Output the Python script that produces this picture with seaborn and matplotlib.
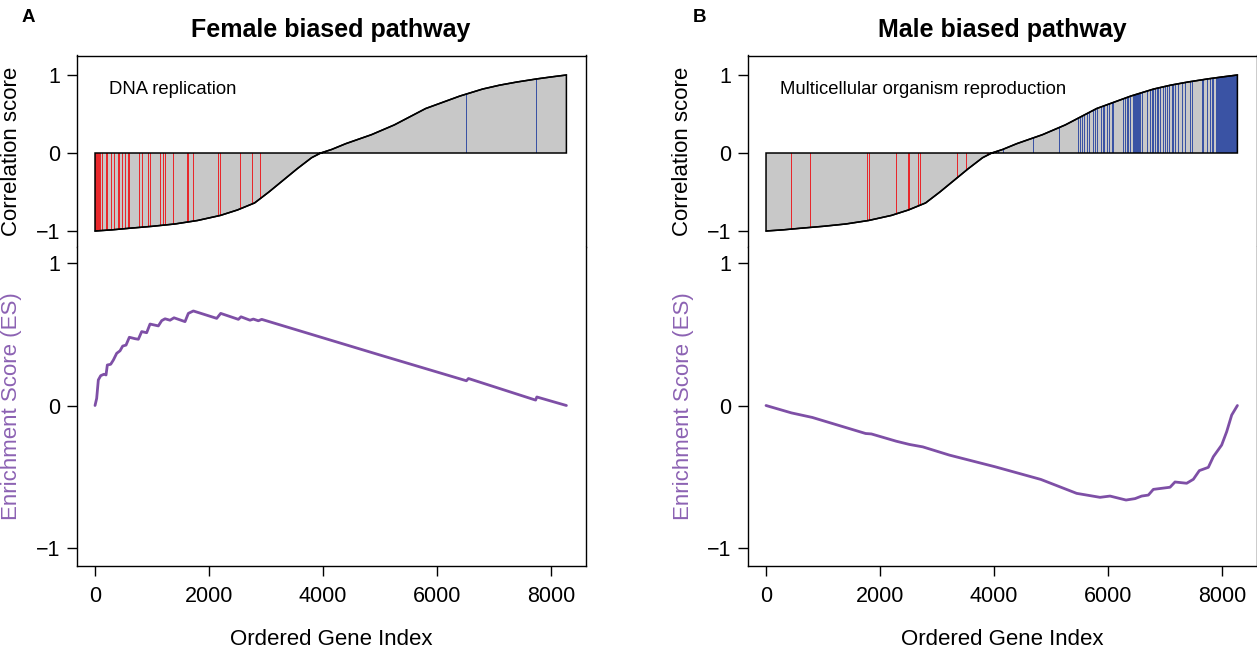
import numpy as np
import pandas as pd
import matplotlib
matplotlib.use("Agg")
import matplotlib.pyplot as plt
from matplotlib.patches import Polygon
import seaborn as sns

sns.set_theme(style="white")
plt.rcParams["font.family"] = ["Liberation Sans", "DejaVu Sans"]
plt.rcParams["text.color"] = "black"
plt.rcParams["axes.labelcolor"] = "black"
plt.rcParams["xtick.color"] = "black"
plt.rcParams["ytick.color"] = "black"

# ---------------------------------------------------------------- data
n_genes = 8270

# ranked correlation score of every gene (shared ranking)
rank_index = [0, 300, 600, 1000, 1400, 1800, 2200, 2500, 2800, 3050, 3300,
              3550, 3800, 3960, 4150, 4400, 4850, 5250, 5800, 6400, 6800,
              7100, 7400, 7750, 8000, 8270]
corr_score = [-1.0, -0.985, -0.965, -0.94, -0.91, -0.865, -0.80, -0.73,
              -0.64, -0.50, -0.35, -0.20, -0.06, 0.0, 0.045, 0.12, 0.235,
              0.36, 0.57, 0.73, 0.82, 0.87, 0.91, 0.95, 0.975, 1.0]

# pathway members (position in ranked list)
female_hits_neg = [0, 12, 25, 38, 50, 62, 75, 88, 117, 193, 205, 275, 339,
                   398, 427, 468, 526, 585, 602, 766, 819, 936, 965, 1140,
                   1187, 1228, 1374, 1608, 1626, 1725, 2164, 2193, 2544,
                   2760, 2895]
female_hits_pos = [6516, 7730]

male_hits_neg = [446, 779, 1768, 1802, 2283, 2497, 2516, 2670, 2704, 3351,
                 3505, 3872, 3900]
male_hits_pos = [4070, 4153, 4678, 5146, 5480, 5509, 5550, 5585, 5626, 5667,
                 5743, 5772, 5801, 5877, 5906, 5936, 5977, 6023, 6064, 6094,
                 6258, 6298, 6327, 6357, 6386, 6435, 6450, 6465, 6480, 6495,
                 6510, 6525, 6540, 6560, 6591, 6678, 6737, 6766, 6795, 6825,
                 6854, 6883, 6912, 6971, 7000, 7041, 7076, 7117, 7146, 7175,
                 7234, 7292, 7351, 7439, 7468, 7643, 7673, 7731, 7790, 7819,
                 7848, 7889, 7910, 7925, 7940, 7955, 7970, 7985, 8000, 8015,
                 8030, 8045, 8060, 8075, 8090, 8105, 8120, 8135, 8150, 8165,
                 8180, 8195, 8210, 8225, 8240, 8255, 8268]

# running enrichment score
female_es_index = [0, 29, 58, 100, 158, 193, 216, 275, 322, 380, 439, 485,
                   544, 602, 702, 760, 819, 906, 965, 1111, 1170, 1228, 1316,
                   1386, 1579, 1637, 1725, 2135, 2205, 2515, 2561, 2719,
                   2778, 2865, 2924, 5000, 6516, 6551, 7730, 7751, 8270]
female_es = [0.0, 0.05, 0.18, 0.21, 0.22, 0.215, 0.285, 0.29, 0.32, 0.367,
             0.385, 0.418, 0.425, 0.48, 0.47, 0.466, 0.52, 0.512, 0.573,
             0.56, 0.597, 0.61, 0.60, 0.617, 0.59, 0.648, 0.665, 0.613,
             0.648, 0.606, 0.624, 0.60, 0.608, 0.596, 0.606, 0.355, 0.174,
             0.19, 0.038, 0.06, 0.0]

male_es_index = [0, 446, 812, 1748, 1848, 2283, 2516, 2750, 3218, 4019, 4821,
                 5450, 5860, 6035, 6316, 6474, 6591, 6708, 6795, 7088, 7175,
                 7380, 7497, 7602, 7760, 7848, 7994, 8082, 8170, 8270]
male_es = [0.0, -0.052, -0.084, -0.197, -0.2, -0.251, -0.274, -0.291, -0.349,
           -0.431, -0.52, -0.618, -0.646, -0.637, -0.665, -0.655, -0.637,
           -0.63, -0.59, -0.575, -0.538, -0.547, -0.519, -0.458, -0.435,
           -0.36, -0.278, -0.184, -0.067, 0.0]

y_ticks = [-1, 0, 1]
x_ticks = [0, 2000, 4000, 6000, 8000]

# ---------------------------------------------------------------- style
RED = "#E8282C"
BLUE = "#3A53A4"
GREY = "#C8C8C8"
ES_LINE = "#7E4FA6"
ES_LABEL = "#8C62B3"

W, H = 1257, 648
fig = plt.figure(figsize=(W / 100, H / 100), dpi=100)

AX_W = 509 / W
TOP_Y0, TOP_H = (H - 247) / H, (247 - 55.5) / H
BOT_Y0, BOT_H = (H - 566) / H, (566 - 247) / H


def style_axis(ax, hide):
    for side, sp in ax.spines.items():
        sp.set_color("black")
        sp.set_linewidth(1.0)
        sp.set_visible(side != hide)
    ax.set_yticks(y_ticks)
    ax.set_yticklabels(["\u22121", "0", "1"])
    ax.tick_params(axis="y", left=True, length=7.2, width=1.0, pad=4.3,
                   labelsize=15.5, colors="black")
    ax.yaxis.set_label_coords(-54 / 509, 0.5)


def draw_panel(left_px, letter, title, term, hits_neg, hits_pos, es_idx, es_val):
    left = left_px / W
    ax_top = fig.add_axes([left, TOP_Y0, AX_W, TOP_H])
    ax_bot = fig.add_axes([left, BOT_Y0, AX_W, BOT_H])

    # ---- correlation profile with pathway members
    verts = [(0, 0)] + list(zip(rank_index, corr_score)) + [(n_genes, 0)]
    area = Polygon(verts, closed=True, facecolor=GREY, edgecolor="none", zorder=1)
    ax_top.add_patch(area)
    for hits, col in ((hits_neg, RED), (hits_pos, BLUE)):
        marks = ax_top.vlines(hits, -1.1, 1.1, colors=col, lw=0.72,
                              antialiased=False, zorder=2)
        marks.set_clip_path(area)
    ax_top.add_patch(Polygon(verts, closed=True, facecolor="none",
                             edgecolor="black", lw=1.1, zorder=3))
    curve = pd.DataFrame({"rank": rank_index, "score": corr_score})
    sns.lineplot(data=curve, x="rank", y="score", ax=ax_top, color="black",
                 lw=1.1, estimator=None, zorder=4)
    ax_top.text(240, 0.82, term, fontsize=13.3, ha="left", va="center",
                color="black")

    ax_top.set_xlim(-325, 8605)
    ax_top.set_ylim(-1.205, 1.25)
    style_axis(ax_top, "bottom")
    ax_top.tick_params(axis="x", bottom=False, labelbottom=False)
    ax_top.set_xlabel("")
    ax_top.set_ylabel("Correlation score", fontsize=16, color="black")

    # ---- running enrichment score
    es = pd.DataFrame({"rank": es_idx, "es": es_val})
    sns.lineplot(data=es, x="rank", y="es", ax=ax_bot, color=ES_LINE,
                 lw=2.0, estimator=None)
    ax_bot.set_xlim(-325, 8605)
    ax_bot.set_ylim(-1.129, 1.115)
    style_axis(ax_bot, "top")
    ax_bot.set_xticks(x_ticks)
    ax_bot.set_xticklabels([str(v) for v in x_ticks])
    ax_bot.tick_params(axis="x", bottom=True, length=7.5, width=1.0, pad=7,
                       labelsize=15.5, colors="black")
    ax_bot.set_ylabel("Enrichment Score (ES)", fontsize=16, color=ES_LABEL)
    ax_bot.set_xlabel("Ordered Gene Index", fontsize=16, color="black",
                      labelpad=16)

    cx = (left_px + 254.5) / W
    fig.text(cx, 1 - 30 / H, title, fontsize=18, fontweight="bold",
             ha="center", va="center", color="black")
    fig.text((left_px - 48) / W, 1 - 18 / H, letter, fontsize=13.5,
             fontweight="bold", ha="center", va="center", color="black")


draw_panel(76.5, "A", "Female biased pathway", "DNA replication",
           female_hits_neg, female_hits_pos, female_es_index, female_es)
draw_panel(747.5, "B", "Male biased pathway", "Multicellular organism reproduction",
           male_hits_neg, male_hits_pos, male_es_index, male_es)

fig.savefig("out.png", dpi=100, facecolor="white")
